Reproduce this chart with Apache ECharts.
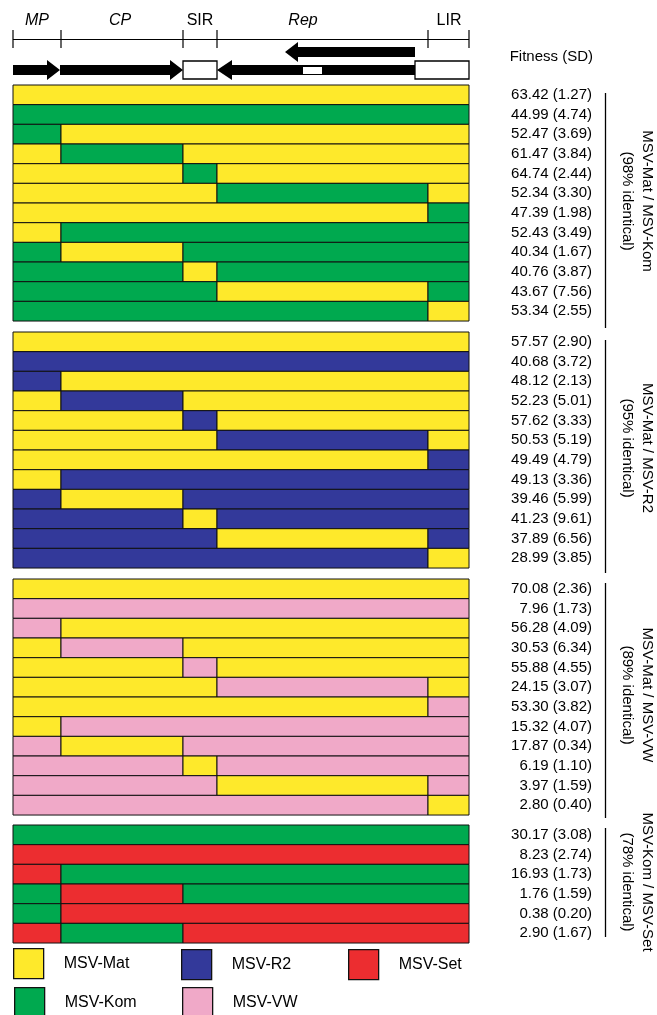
<!DOCTYPE html>
<html>
<head>
<meta charset="utf-8">
<script src="https://cdn.jsdelivr.net/npm/echarts@6/dist/echarts.min.js"></script>
<style>html,body{margin:0;padding:0;background:#fff}#c{width:657px;height:1015px}</style>
</head>
<body>
<div id="c"></div>
<script>
// ---------- genome map (units along the genome, 0..456) ----------
const segEdges = [0, 48, 170, 204, 415, 456];
const segNames = ['MP', 'CP', 'SIR', 'Rep', 'LIR'];
const segItalic = [1, 1, 0, 1, 0];
const segLabelX = [24, 107, 187, 290, 436];
const mapArrowsMain = [[0, 34, 47], [47, 157, 170], [402, 219, 204]]; // [tail, headBase, tip]
const mapArrowsUpper = [[402, 285, 272]];
const mapBoxes = [[170, 204], [402, 456]];
const mapMarkers = [[290, 309]];

// ---------- parental viruses ----------
const virusNames = ['MSV-Mat', 'MSV-Kom', 'MSV-R2', 'MSV-VW', 'MSV-Set'];
const virusColors = ['#FEE92B', '#00A94F', '#33399A', '#F0A9C8', '#EC2D30'];

// ---------- chimera blocks (A = first parent, B = second parent, per MP/CP/SIR/Rep/LIR) ----------
const block1Parents = ['MSV-Mat', 'MSV-Kom'];
const block1Rows = ['AAAAA','BBBBB','BAAAA','ABAAA','AABAA','AAABA','AAAAB','ABBBB','BABBB','BBABB','BBBAB','BBBBA'];
const block1Fit = [63.42, 44.99, 52.47, 61.47, 64.74, 52.34, 47.39, 52.43, 40.34, 40.76, 43.67, 53.34];
const block1SD  = [1.27, 4.74, 3.69, 3.84, 2.44, 3.30, 1.98, 3.49, 1.67, 3.87, 7.56, 2.55];

const block2Parents = ['MSV-Mat', 'MSV-R2'];
const block2Rows = ['AAAAA','BBBBB','BAAAA','ABAAA','AABAA','AAABA','AAAAB','ABBBB','BABBB','BBABB','BBBAB','BBBBA'];
const block2Fit = [57.57, 40.68, 48.12, 52.23, 57.62, 50.53, 49.49, 49.13, 39.46, 41.23, 37.89, 28.99];
const block2SD  = [2.90, 3.72, 2.13, 5.01, 3.33, 5.19, 4.79, 3.36, 5.99, 9.61, 6.56, 3.85];

const block3Parents = ['MSV-Mat', 'MSV-VW'];
const block3Rows = ['AAAAA','BBBBB','BAAAA','ABAAA','AABAA','AAABA','AAAAB','ABBBB','BABBB','BBABB','BBBAB','BBBBA'];
const block3Fit = [70.08, 7.96, 56.28, 30.53, 55.88, 24.15, 53.30, 15.32, 17.87, 6.19, 3.97, 2.80];
const block3SD  = [2.36, 1.73, 4.09, 6.34, 4.55, 3.07, 3.82, 4.07, 0.34, 1.10, 1.59, 0.40];

const block4Parents = ['MSV-Kom', 'MSV-Set'];
const block4Rows = ['AAAAA','BBBBB','BAAAA','ABAAA','ABBBB','BABBB'];
const block4Fit = [30.17, 8.23, 16.93, 1.76, 0.38, 2.90];
const block4SD  = [3.08, 2.74, 1.73, 1.59, 0.20, 1.67];

const blockIdentity = [98, 95, 89, 78];

// ---------- layout ----------
const FONT = "'Liberation Sans', Arial, Helvetica, sans-serif";
const GL = 13, GW = 456, ROWH = 19.67;
const blockTops = [85, 332, 579, 825];
const bracketSpans = [[93, 328], [340, 573], [583, 818], [828, 937]];

const blocks = [
  {parents: block1Parents, rows: block1Rows, fit: block1Fit, sd: block1SD},
  {parents: block2Parents, rows: block2Rows, fit: block2Fit, sd: block2SD},
  {parents: block3Parents, rows: block3Rows, fit: block3Fit, sd: block3SD},
  {parents: block4Parents, rows: block4Rows, fit: block4Fit, sd: block4SD}
];

function rowRuns(rows, parents) {
  const out = [];
  rows.forEach((pat, r) => {
    let cur = null;
    for (let i = 0; i < pat.length; i++) {
      const ci = virusNames.indexOf(parents[pat[i] === 'A' ? 0 : 1]);
      if (cur && cur[3] === ci) { cur[1] = segEdges[i + 1]; }
      else { cur = [segEdges[i], segEdges[i + 1], r, ci]; out.push(cur); }
    }
  });
  return out;
}

function renderBar(params, api) {
  const s = api.coord([api.value(0), api.value(2)]);
  const e = api.coord([api.value(1), api.value(2)]);
  const h = api.size([0, 1])[1];
  return {
    type: 'rect',
    shape: {x: s[0], y: s[1] - h / 2, width: e[0] - s[0], height: h},
    style: {fill: virusColors[api.value(3)], stroke: '#111', lineWidth: 1}
  };
}

// header map items: [kind, a, b, c]
const mapData = [];
mapData.push([0, segEdges[0], segEdges[segEdges.length - 1], 0]);
segEdges.forEach(e => mapData.push([1, e, 0, 0]));
mapArrowsUpper.forEach(a => mapData.push([3, a[0], a[1], a[2]]));
mapArrowsMain.forEach(a => mapData.push([2, a[0], a[1], a[2]]));
mapBoxes.forEach(b => mapData.push([4, b[0], b[1], 0]));
mapMarkers.forEach(b => mapData.push([5, b[0], b[1], 0]));
segLabelX.forEach((x, i) => mapData.push([6, x, i, 0]));

function arrowPts(api, tail, base, tip, yc) {
  const sh = 5, hh = 10;
  return [[tail, yc - sh], [base, yc - sh], [base, yc - hh], [tip, yc], [base, yc + hh], [base, yc + sh], [tail, yc + sh]]
    .map(p => api.coord(p));
}

function renderMap(params, api) {
  const k = api.value(0), a = api.value(1), b = api.value(2), c = api.value(3);
  if (k === 0) {
    const p1 = api.coord([a, 39]), p2 = api.coord([b, 39]);
    return {type: 'line', shape: {x1: p1[0], y1: p1[1] + 0.5, x2: p2[0], y2: p2[1] + 0.5}, style: {stroke: '#000', lineWidth: 1.2}};
  }
  if (k === 1) {
    const p1 = api.coord([a, 30]), p2 = api.coord([a, 48]);
    return {type: 'line', shape: {x1: p1[0], y1: p1[1], x2: p2[0], y2: p2[1]}, style: {stroke: '#000', lineWidth: 1.2}};
  }
  if (k === 2 || k === 3) {
    return {type: 'polygon', shape: {points: arrowPts(api, a, b, c, k === 2 ? 70 : 52)}, style: {fill: '#000'}};
  }
  if (k === 4) {
    const p1 = api.coord([a, 61]), p2 = api.coord([b, 79]);
    return {type: 'rect', shape: {x: p1[0], y: p1[1], width: p2[0] - p1[0], height: p2[1] - p1[1]}, style: {fill: '#fff', stroke: '#000', lineWidth: 1.3}};
  }
  if (k === 5) {
    const p1 = api.coord([a, 67]), p2 = api.coord([b, 74]);
    return {type: 'rect', shape: {x: p1[0], y: p1[1], width: p2[0] - p1[0], height: p2[1] - p1[1]}, style: {fill: '#fff'}};
  }
  const p = api.coord([a, 21]);
  return {
    type: 'text', x: p[0], y: p[1],
    style: {text: segNames[b], fontSize: 16, fontFamily: FONT, fontStyle: segItalic[b] ? 'italic' : 'normal',
            fill: '#000', align: 'center', verticalAlign: 'middle'}
  };
}

const grids = [], xAxes = [], yAxes = [], series = [], graphics = [];
blocks.forEach((bk, bi) => {
  const n = bk.rows.length;
  grids.push({left: GL, width: GW, top: blockTops[bi], height: n * ROWH});
  xAxes.push({type: 'value', gridIndex: bi, min: 0, max: segEdges[segEdges.length - 1], show: false});
  yAxes.push({
    type: 'category', gridIndex: bi, inverse: true, position: 'right',
    data: bk.rows.map((_, i) => String(i)),
    axisLine: {show: false}, axisTick: {show: false}, splitLine: {show: false},
    axisLabel: {
      show: true, interval: 0, align: 'right', margin: 123, fontSize: 15, fontFamily: FONT, color: '#000',
      formatter: (v, i) => bk.fit[i].toFixed(2) + ' (' + bk.sd[i].toFixed(2) + ')'
    }
  });
  series.push({
    type: 'custom', name: 'block' + (bi + 1), xAxisIndex: bi, yAxisIndex: bi,
    renderItem: renderBar, encode: {x: [0, 1], y: 2}, data: rowRuns(bk.rows, bk.parents),
    silent: true, animation: false
  });
  const top = blockTops[bi], bottom = top + n * ROWH, mid = (top + bottom) / 2;
  graphics.push({type: 'line', shape: {x1: 605.5, y1: bracketSpans[bi][0], x2: 605.5, y2: bracketSpans[bi][1]}, style: {stroke: '#000', lineWidth: 1.3}});
  graphics.push({
    type: 'text', x: 637, y: mid - 2, rotation: -Math.PI / 2,
    style: {text: bk.parents[0] + ' / ' + bk.parents[1] + '\n(' + blockIdentity[bi] + '% identical)',
            fontSize: 15, fontFamily: FONT, fill: '#000', align: 'center', verticalAlign: 'middle', lineHeight: 20}
  });
});

// header grid
const hg = grids.length;
grids.push({left: GL, width: GW, top: 0, height: 90});
xAxes.push({type: 'value', gridIndex: hg, min: 0, max: segEdges[segEdges.length - 1], show: false});
yAxes.push({type: 'value', gridIndex: hg, min: 0, max: 90, inverse: true, show: false});
series.push({type: 'custom', name: 'map', xAxisIndex: hg, yAxisIndex: hg, renderItem: renderMap, data: mapData, silent: true, animation: false, clip: false});

// legend proxy series
virusNames.forEach((nm, i) => {
  series.push({type: 'bar', name: nm, xAxisIndex: 0, yAxisIndex: 0, data: [], itemStyle: {color: virusColors[i]}});
});
const legendOrder = [['MSV-Mat', 13, 948], ['MSV-R2', 181, 949], ['MSV-Set', 348, 949], ['MSV-Kom', 14, 987], ['MSV-VW', 182, 987]];
const legends = legendOrder.map(([nm, x, y]) => ({
  left: x, top: y, padding: 0, itemWidth: 30, itemHeight: 30, selectedMode: false, icon: 'rect',
  data: [{name: nm, itemStyle: {color: virusColors[virusNames.indexOf(nm)], borderColor: '#111', borderWidth: 1.3}}],
  textStyle: {fontSize: 16, fontFamily: FONT, color: '#000', padding: [0, 0, 0, 15]}
}));

const chart = echarts.init(document.getElementById('c'), null, {renderer: 'canvas'});
chart.setOption({
  animation: false,
  backgroundColor: '#fff',
  title: {text: 'Fitness (SD)', right: 64, top: 49, padding: 0,
          textStyle: {fontSize: 15, fontWeight: 'normal', fontFamily: FONT, color: '#000'}},
  grid: grids, xAxis: xAxes, yAxis: yAxes, series: series, legend: legends,
  graphic: graphics
});
</script>
</body>
</html>
